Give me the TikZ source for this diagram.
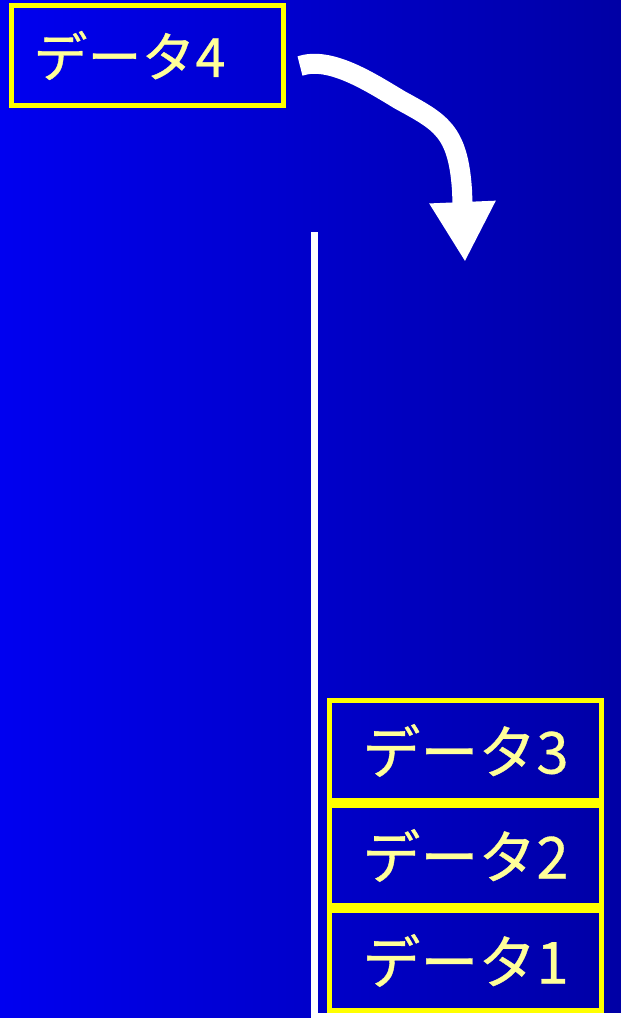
\documentclass[tikz,border=0pt]{standalone}
\usepackage{fontspec}
\newfontfamily\jpfont[FakeBold=0.6]{Noto Sans CJK JP}
\usetikzlibrary{positioning,arrows.meta}

\begin{document}
\begin{tikzpicture}[x=1pt,y=-1pt,
    databox/.style={draw={rgb,255:red,255;green,255;blue,0},line width=5pt,
        minimum width=272pt,minimum height=100pt,inner sep=0pt,
        text={rgb,255:red,255;green,255;blue,153},font=\jpfont\fontsize{58}{62}\selectfont},
    wall/.style={white,line width=7pt},
    bigarrow/.style={white,line width=20pt,-{Triangle[length=60pt,width=62pt]}}]
        \shade[left color={rgb,255:red,0;green,0;blue,240},right color={rgb,255:red,0;green,0;blue,165}]
            (0,0) rectangle (621,1018);
        \useasboundingbox (0,0) rectangle (621,1018);
        \begin{scope}
        \clip (0,0) rectangle (621,1018);
        \coordinate (top) at (314,232); \coordinate (corner) at (621,1016);
        \draw[wall] (top) |- (corner);
        \node[databox] (d1) at (465.5,960.5) {データ1};
        \node[databox,above=0pt of d1] (d2) {データ2};
        \node[databox,above=0pt of d2] (d3) {データ3};
        \node[databox,font=\jpfont\fontsize{54}{58}\selectfont,text width=227pt,align=left,inner xsep=22pt]
            (d4) at (147,55.5) {データ4};
        \coordinate (lift) at (300,66); \coordinate (drop) at (465,262);
        \draw[bigarrow] (lift) .. controls (330,56) and (370,82) .. (400,100)
            .. controls (440,122) and (458,130) .. (462,190) -- (drop);
        \end{scope}
    \end{tikzpicture}
\end{document}
